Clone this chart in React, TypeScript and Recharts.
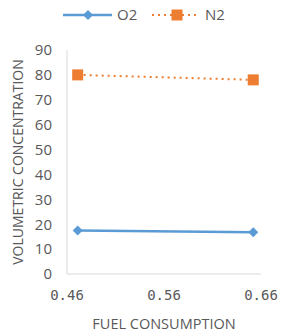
import React from 'react';
import { LineChart, Line, XAxis, YAxis, Legend } from 'recharts';

const fuel = [0.471, 0.652];
const o2 = [17.5, 16.8];
const n2 = [80, 78];
const xTicks = [0.46, 0.56, 0.66];
const yTicks = [0, 10, 20, 30, 40, 50, 60, 70, 80, 90];

const data = fuel.map((f, i) => ({ fuel: f, O2: o2[i], N2: n2[i] }));

const BLUE = '#5B9BD5';
const ORANGE = '#ED7D31';
const GREY = '#595959';

const Diamond = (props: any) => {
  const { cx, cy } = props;
  if (cx == null || cy == null) return null;
  const r = 5;
  return <path d={`M${cx},${cy - r}L${cx + r},${cy}L${cx},${cy + r}L${cx - r},${cy}Z`} fill={BLUE} />;
};

const Square = (props: any) => {
  const { cx, cy } = props;
  if (cx == null || cy == null) return null;
  return <rect x={cx - 5.5} y={cy - 5.5} width={11} height={11} fill={ORANGE} />;
};

const LegendBox = () => (
  <svg width={291} height={30}>
    <line x1={63} y1={15} x2={112} y2={15} stroke={BLUE} strokeWidth={2.5} />
    <path d="M88,10L93,15L88,20L83,15Z" fill={BLUE} />
    <text x={117} y={20} fill={GREY} fontSize={15} fontFamily="'Open Sans', sans-serif">O2</text>
    <line x1={152} y1={15} x2={200} y2={15} stroke={ORANGE} strokeWidth={2} strokeDasharray="2 4" />
    <rect x={171.5} y={9.5} width={11} height={11} fill={ORANGE} />
    <text x={205} y={20} fill={GREY} fontSize={15} fontFamily="'Open Sans', sans-serif">N2</text>
  </svg>
);

export default function App() {
  return (
    <div style={{ position: 'absolute', left: 0, top: 0, background: '#fff' }}>
      <LineChart width={291} height={336} data={data} margin={{ top: 20, right: 30, left: 0, bottom: 0 }}>
        <Legend verticalAlign="top" align="left" height={30} content={<LegendBox />} wrapperStyle={{ top: 0, left: 0 }} />
        <XAxis
          dataKey="fuel"
          type="number"
          domain={[0.46, 0.66]}
          ticks={xTicks}
          height={62}
          axisLine={{ stroke: '#d9d9d9' }}
          tickLine={false}
          tickMargin={10}
          tick={{ fill: GREY, fontSize: 14, fontFamily: "'DejaVu Sans Mono', monospace" }}
          tickFormatter={(v: number) => v.toFixed(2)}
          label={{ value: 'FUEL CONSUMPTION', position: 'insideBottom', offset: 7, fill: GREY, fontSize: 14.5, fontFamily: "'Open Sans', sans-serif" }}
        />
        <YAxis
          type="number"
          domain={[0, 90]}
          ticks={yTicks}
          width={67}
          axisLine={{ stroke: '#d9d9d9' }}
          tickLine={false}
          tickMargin={9}
          tick={{ fill: GREY, fontSize: 15, fontFamily: "'Open Sans', sans-serif" }}
          label={{ value: 'VOLUMETRIC CONCENTRATION', angle: -90, position: 'insideLeft', offset: 18, style: { textAnchor: 'middle' }, fill: GREY, fontSize: 14, fontFamily: "'Open Sans', sans-serif" }}
        />
        <Line dataKey="O2" stroke={BLUE} strokeWidth={2.5} dot={<Diamond />} activeDot={false} isAnimationActive={false} />
        <Line dataKey="N2" stroke={ORANGE} strokeWidth={2} strokeDasharray="2 4" dot={<Square />} activeDot={false} isAnimationActive={false} />
      </LineChart>
    </div>
  );
}
